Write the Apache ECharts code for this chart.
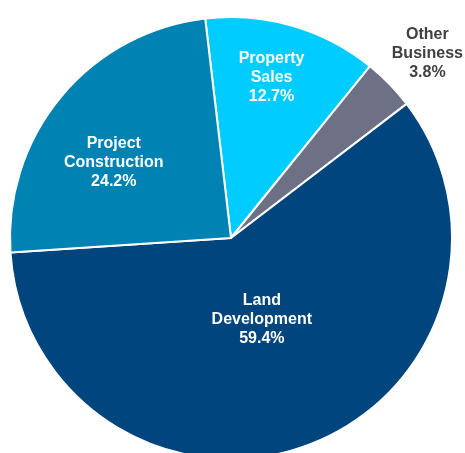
<!DOCTYPE html>
<html><head><meta charset="utf-8">
<script src="https://cdn.jsdelivr.net/npm/echarts@6/dist/echarts.min.js"></script>
<style>html,body{margin:0;padding:0;background:#fff}#c{width:465px;height:453px}</style>
</head><body><div id="c"></div>
<script>
const categories = ['Property\nSales', 'Other\nBusiness', 'Land\nDevelopment', 'Project\nConstruction'];
const values = [12.7, 3.8, 59.4, 24.2];
const colors = ['#00CCFF', '#6E7186', '#00457E', '#0083B3'];
const labelColors = ['#ffffff', '#404040', '#ffffff', '#ffffff'];
const labelOffsets = [[9, -51], [115, -105], [-9, -25], [-30, -3]];

const chart = echarts.init(document.getElementById('c'), null, {renderer: 'canvas'});
chart.setOption({
  animation: false,
  series: [{
    type: 'pie',
    center: [231, 238],
    radius: 221,
    startAngle: 96.7,
    clockwise: true,
    avoidLabelOverlap: false,
    itemStyle: { borderColor: '#ffffff', borderWidth: 2 },
    label: {
      position: 'inside',
      fontFamily: 'Liberation Sans, Arial, sans-serif',
      fontWeight: 'bold',
      fontSize: 16,
      lineHeight: 19,
      align: 'center',
      formatter: p => p.name + '\n' + p.value.toFixed(1) + '%'
    },
    labelLine: { show: false },
    emphasis: { disabled: true },
    data: categories.map((c, i) => ({
      name: c,
      value: values[i],
      itemStyle: { color: colors[i] },
      label: { color: labelColors[i], offset: labelOffsets[i] }
    }))
  }]
});
</script></body></html>
